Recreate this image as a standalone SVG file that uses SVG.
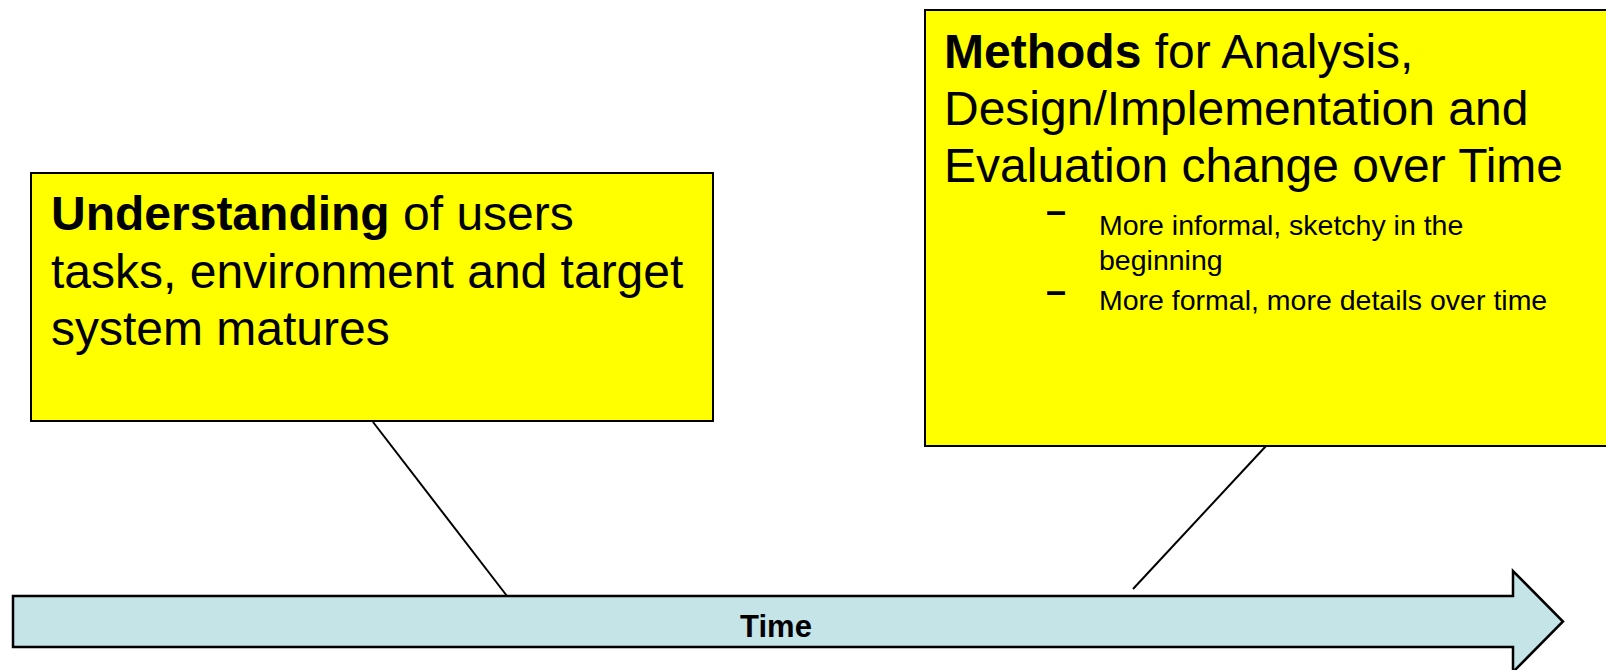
<svg xmlns="http://www.w3.org/2000/svg" width="1606" height="670" viewBox="0 0 1606 670">
  <style>
    .note { fill: #FFFF00; stroke: #000; stroke-width: 2; }
    .big { font-family: "Liberation Sans", Arial, sans-serif; font-size: 48px; fill: #000; }
    .small { font-family: "Liberation Sans", Arial, sans-serif; font-size: 28.5px; fill: #000; }
    .dash { font-family: "Liberation Sans", Arial, sans-serif; font-size: 36px; font-weight: bold; fill: #000; }
    .b { font-weight: bold; }
    .link { stroke: #000; stroke-width: 2; fill: none; }
  </style>
  <rect width="1606" height="670" fill="#fff"/>

  <!-- time axis -->
  <g id="time-arrow">
    <path d="M13,596 L1513,596 L1513,571 L1563,621.5 L1513,672 L1513,647 L13,647 Z" fill="#C4E4E8" stroke="#000" stroke-width="2.5"/>
    <text x="776" y="637" text-anchor="middle" font-family="Liberation Sans, Arial, sans-serif" font-size="31" font-weight="bold">Time</text>
  </g>

  <!-- callout connectors -->
  <g id="connectors">
    <line class="link" x1="373" y1="422" x2="507" y2="596"/>
    <line class="link" x1="1266" y1="446" x2="1133" y2="589"/>
  </g>

  <g id="understanding">
    <rect class="note" x="31" y="173" width="682" height="248"/>
    <text class="big" x="51" y="230"><tspan class="b">Understanding</tspan> of users</text>
    <text class="big" x="51" y="288">tasks, environment and target</text>
    <text class="big" x="51" y="345">system matures</text>
  </g>

  <g id="methods">
    <rect class="note" x="925" y="10" width="700" height="436"/>
    <text class="big" x="944" y="68"><tspan class="b">Methods</tspan> for Analysis,</text>
    <text class="big" x="944" y="125">Design/Implementation and</text>
    <text class="big" x="944" y="182">Evaluation change over Time</text>
    <text class="dash" x="1046" y="223">–</text>
    <text class="small" x="1099" y="235">More informal, sketchy in the</text>
    <text class="small" x="1099" y="270">beginning</text>
    <text class="dash" x="1046" y="303">–</text>
    <text class="small" x="1099" y="310">More formal, more details over time</text>
  </g>
</svg>
